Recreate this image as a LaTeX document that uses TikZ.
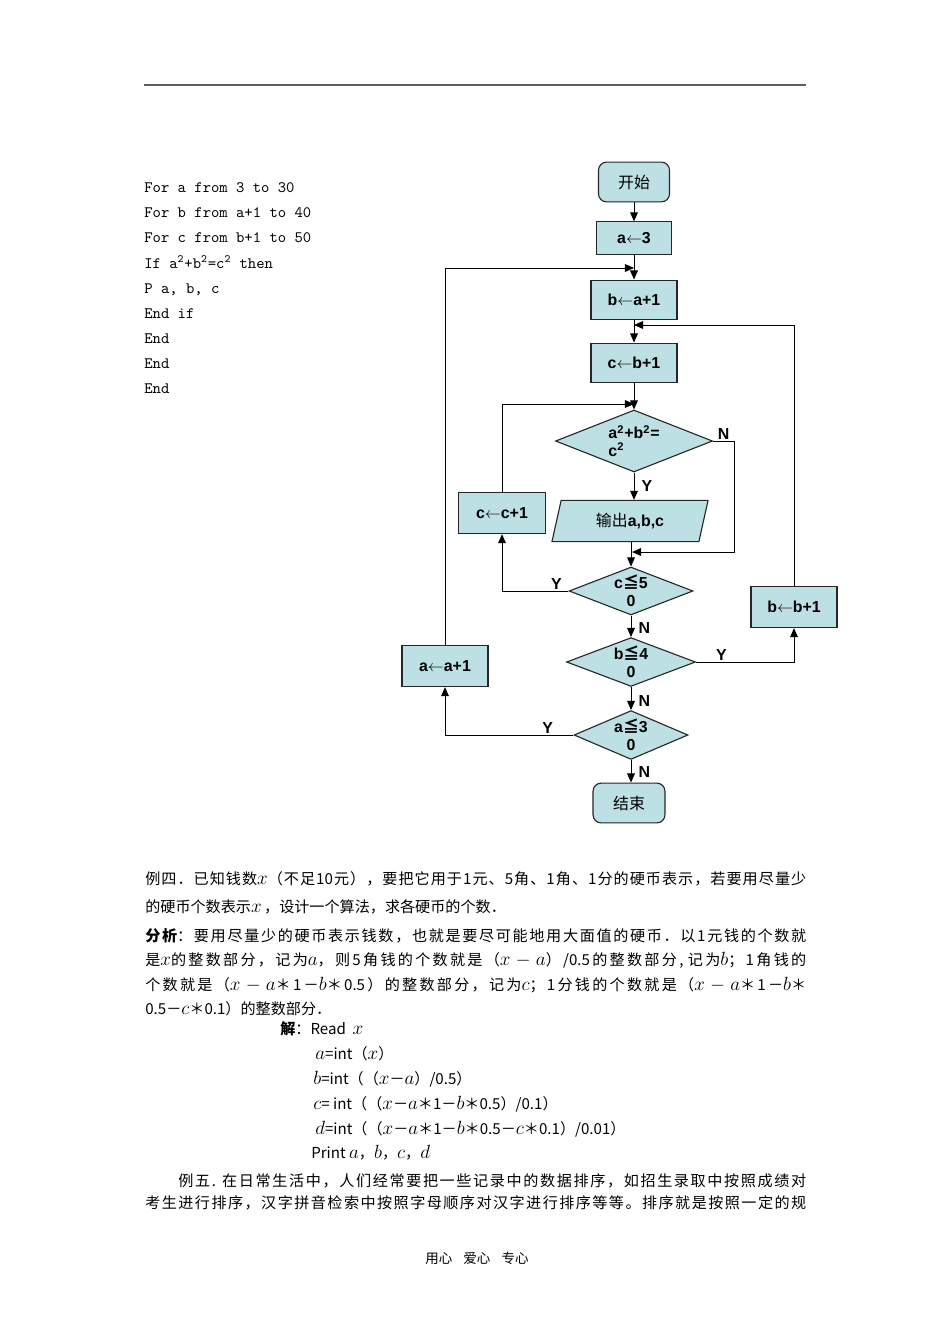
\documentclass[tikz,border=0pt]{standalone}
\usepackage{fontspec}
\usepackage{xcolor}
\usepackage{tikz}
\usetikzlibrary{positioning,shapes.geometric,arrows.meta}
\newfontfamily\cjk{Noto Sans CJK SC}
\newfontfamily\flowfont{Liberation Sans}
% giãn cách giữa các chữ Hán để căn đều hai lề
\newXeTeXintercharclass\hanclass
\count255="4E00
\loop \XeTeXcharclass\count255=\hanclass \advance\count255 by 1 \ifnum\count255<"A000 \repeat
\count255="3000
\loop \XeTeXcharclass\count255=\hanclass \advance\count255 by 1 \ifnum\count255<"3040 \repeat
\count255="FF00
\loop \XeTeXcharclass\count255=\hanclass \advance\count255 by 1 \ifnum\count255<"FFF0 \repeat
\XeTeXinterchartoks\hanclass\hanclass={\hskip0pt plus 3pt minus 0.3pt\relax}
\XeTeXinterchartoks\hanclass 0={\hskip0pt plus 3pt minus 0.3pt\relax}
\XeTeXinterchartoks 0\hanclass={\hskip0pt plus 3pt minus 0.3pt\relax}
\XeTeXinterchartokenstate=1
\definecolor{FlowBlue}{RGB}{189,224,228}
\definecolor{RuleGray}{RGB}{95,95,95}
\newcommand{\fullline}[1]{\hbox to 146.1mm{#1}}
\newcommand{\mv}[1]{{\fontsize{12}{12}\selectfont$#1$}}
\newcommand{\hz}[1]{{\cjk\mdseries #1}}
\tikzset{
    box/.style={rectangle, draw=black!85, fill=FlowBlue, line width=0.7pt,
        inner sep=0pt, font=\flowfont\bfseries\fontsize{10}{12}\selectfont},
    term/.style={box, rounded corners=1.8mm},
    cond/.style={diamond, aspect=2.5, draw=black!85, fill=FlowBlue, line width=0.7pt,
        inner sep=0pt, align=center, font=\flowfont\bfseries\fontsize{10}{11}\selectfont},
    io/.style={trapezium, trapezium left angle=60, trapezium right angle=120,
        trapezium stretches body=true, draw=black!85, fill=FlowBlue, line width=0.7pt,
        inner sep=0pt, font=\flowfont\bfseries\fontsize{10}{12}\selectfont},
    arr/.style={-{Triangle[length=2mm,width=1.7mm]}, line width=0.6pt},
    yn/.style={font=\flowfont\bfseries\fontsize{10}{12}\selectfont, inner sep=1.5pt},
    txt/.style={anchor=base west, inner sep=0pt, font=\cjk\fontsize{9.5}{12}\selectfont},
    code/.style={anchor=base west, inner sep=0pt, font=\ttfamily\fontsize{10}{12}\selectfont}
}

\begin{document}
\begin{tikzpicture}[x=0.22105mm, y=-0.22105mm]
    \useasboundingbox (0,0) rectangle (950,1344);

    % --- ĐƯỜNG KẺ ĐẦU TRANG ---
    \draw[RuleGray, line width=1.2pt] (144,85) -- (806,85);

    % --- CHƯƠNG TRÌNH ---
    \node[code] (code1) at (144,193) {For a from 3 to 30};
    \node[code] (code2) at (144,218) {For b from a+1 to 40};
    \node[code] (code3) at (144,243) {For c from b+1 to 50};
    \node[code] (code4) at (144,268) {If a\textsuperscript{2}+b\textsuperscript{2}=c\textsuperscript{2} then};
    \node[code] (code5) at (144,293) {P a, b, c};
    \node[code] (code6) at (144,318) {End if};
    \node[code] (code7) at (144,343) {End};
    \node[code] (code8) at (144,368) {End};
    \node[code] (code9) at (144,393) {End};

    % --- LƯU ĐỒ: các khối ---
    \node[term, minimum width=15.7mm, minimum height=8.8mm] (start) at (634,182) {\hz{开始}};
    \node[box, minimum width=16.6mm, minimum height=7.1mm] (a3) at (634,238) {a$\leftarrow$3};
    \node[box, minimum width=19mm, minimum height=8.8mm] (ba1) at (634,300) {b$\leftarrow$a+1};
    \node[box, minimum width=19mm, minimum height=8.8mm] (cb1) at (634,363) {c$\leftarrow$b+1};
    \node[cond, align=left, minimum width=34.7mm, minimum height=13.7mm] (d1) at (634,441)
        {a\textsuperscript{2}+b\textsuperscript{2}=\\c\textsuperscript{2}};
    \node[io, minimum width=34.5mm, minimum height=9.1mm] (out) at (630,521) {\hz{输出}a,b,c};
    \node[box, minimum width=19.2mm, minimum height=9.1mm] (cc1) at (502,513) {c$\leftarrow$c+1};
    \node[cond, minimum width=27.4mm, minimum height=10.6mm] (d2) at (631,591) {c{\cjk ≦}5\\0};
    \node[box, minimum width=19mm, minimum height=9.1mm] (bb1) at (794,607) {b$\leftarrow$b+1};
    \node[cond, minimum width=28.5mm, minimum height=10.8mm] (d3) at (631,662) {b{\cjk ≦}4\\0};
    \node[box, minimum width=19mm, minimum height=9.1mm] (aa1) at (445,666) {a$\leftarrow$a+1};
    \node[cond, minimum width=25.2mm, minimum height=10.8mm] (d4) at (631,735) {a{\cjk ≦}3\\0};
    \node[term, minimum width=15.9mm, minimum height=8.8mm] (stop) at (629,803) {\hz{结束}};

    % --- điểm nhập của các vòng lặp ---
    \coordinate (jA) at (634,268);
    \coordinate (jB) at (634,325);
    \coordinate (jC) at (634,404);
    \coordinate (jD) at (632,552);
    \coordinate (nD) at (734,441);

    % --- LƯU ĐỒ: đường nối ---
    \draw[arr] (start) -- (a3);
    \draw[arr] (a3) -- (ba1);
    \draw[arr] (ba1) -- (cb1);
    \draw[arr] (cb1) -- (d1);
    \draw[arr] (d1.south) -- node[yn, right=3pt] {Y} (d1.south |- out.north);
    \draw[arr] (d1.east) -- node[yn, above=-1pt] {N} (nD) |- (jD);
    \draw[arr] (out.south -| d2.north) -- (d2.north);
    \draw[arr] (d2.west) -| node[yn, pos=0.09, above=-1pt] {Y} (cc1.south);
    \draw[arr] (cc1.north) |- (jC);
    \draw[arr] (d2) -- node[yn, right=3pt, pos=0.6] {N} (d3);
    \draw[arr] (d3.east) -| node[yn, pos=0.13, above=-1pt] {Y} (bb1.south);
    \draw[arr] (bb1.north) |- (jB);
    \draw[arr] (d3) -- node[yn, right=3pt, pos=0.6] {N} (d4);
    \draw[arr] (d4.west) -| node[yn, pos=0.1, above=-1pt] {Y} (aa1.south);
    \draw[arr] (aa1.north) |- (jA);
    \draw[arr] (d4.south) -- node[yn, right=3pt, pos=0.55] {N} (d4.south |- stop.north);

    % --- VÍ DỤ 4 ---
    \node[txt] (ex4a) at (145,884) {\fullline{例四．已知钱数\mv{x}（不足10元），要把它用于1元、5角、1角、1分的硬币表示，若要用尽量少}};
    \node[txt] (ex4b) at (145,912) {的硬币个数表示\mv{x}\,，设计一个算法，求各硬币的个数．};
    \node[txt] (ana1) at (145,941) {\fullline{\textbf{分析}：要用尽量少的硬币表示钱数，也就是要尽可能地用大面值的硬币．以1元钱的个数就}};
    \node[txt] (ana2) at (145,965) {\fullline{是\mv{x}的整数部分，记为\mv{a}，则5角钱的个数就是（\mv{x-a}）/0.5的整数部分, 记为\mv{b}；1角钱的}};
    \node[txt] (ana3) at (145,990) {\fullline{个数就是（\mv{x-a}＊1－\mv{b}＊0.5）的整数部分，记为\mv{c}；1分钱的个数就是（\mv{x-a}＊1－\mv{b}＊}};
    \node[txt] (ana4) at (145,1014) {0.5－\mv{c}＊0.1）的整数部分．};

    % --- LỜI GIẢI ---
    \node[txt] (sol1) at (280,1034) {\textbf{解}：Read \ \mv{x}};
    \node[txt] (sol2) at (315,1059) {\mv{a}=int（\mv{x}）};
    \node[txt] (sol3) at (313,1084) {\mv{b}=int（（\mv{x}－\mv{a}）/0.5）};
    \node[txt] (sol4) at (313,1109) {\mv{c}= int（（\mv{x}－\mv{a}＊1－\mv{b}＊0.5）/0.1）};
    \node[txt] (sol5) at (315,1134) {\mv{d}=int（（\mv{x}－\mv{a}＊1－\mv{b}＊0.5－\mv{c}＊0.1）/0.01）};
    \node[txt] (sol6) at (311,1158) {Print \mv{a}，\mv{b}，\mv{c}，\mv{d}};

    % --- VÍ DỤ 5 ---
    \node[txt] (ex5a) at (178,1186) {\hbox to 138.8mm{例五. 在日常生活中，人们经常要把一些记录中的数据排序，如招生录取中按照成绩对}};
    \node[txt] (ex5b) at (145,1208) {\fullline{考生进行排序，汉字拼音检索中按照字母顺序对汉字进行排序等等。排序就是按照一定的规}};

    % --- CHÂN TRANG ---
    \node[txt, anchor=base, font=\cjk\fontsize{8.5}{10}\selectfont] (foot) at (477,1263)
        {用心\hspace{7pt}爱心\hspace{7pt}专心};

\end{tikzpicture}
\end{document}
